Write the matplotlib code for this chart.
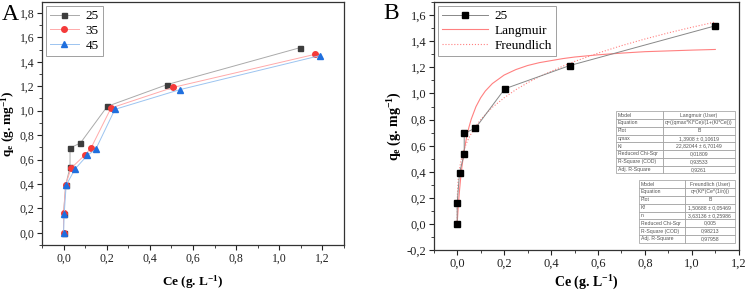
import matplotlib
matplotlib.use("Agg")
import matplotlib.pyplot as plt
from matplotlib.ticker import MultipleLocator, FuncFormatter

plt.rcParams['font.family'] = ['Liberation Serif', 'DejaVu Serif']
plt.rcParams['mathtext.default'] = 'regular'

# panel A: three temperatures
ce_25 = [0.0, 0.0, 0.01, 0.03, 0.03, 0.078, 0.203, 0.48, 1.098]
qe_25 = [0.0, 0.158, 0.393, 0.537, 0.695, 0.735, 1.036, 1.214, 1.517]
ce_35 = [0.0, 0.0, 0.01, 0.035, 0.1, 0.128, 0.22, 0.508, 1.166]
qe_35 = [0.0, 0.16, 0.395, 0.53, 0.639, 0.697, 1.022, 1.191, 1.462]
ce_45 = [0.0, 0.003, 0.012, 0.053, 0.11, 0.149, 0.238, 0.538, 1.188]
qe_45 = [0.0, 0.155, 0.39, 0.522, 0.634, 0.683, 1.011, 1.172, 1.451]

# panel B: fitted curves
fit_ce = [0.0, 0.0002, 0.0005, 0.001, 0.002, 0.0035, 0.005, 0.007, 0.01,
          0.015, 0.02, 0.03, 0.04, 0.05, 0.06, 0.08, 0.1, 0.12, 0.15, 0.2,
          0.25, 0.3, 0.35, 0.45, 0.5, 0.6, 0.7, 0.8, 0.9, 1.0, 1.1]
lang_q = [0.0, 0.006, 0.016, 0.031, 0.061, 0.103, 0.142, 0.192, 0.258,
          0.355, 0.436, 0.565, 0.664, 0.741, 0.804, 0.899, 0.967, 1.019,
          1.076, 1.141, 1.183, 1.214, 1.236, 1.267, 1.279, 1.296, 1.309,
          1.320, 1.326, 1.332, 1.337]
freu_q = [0.0, 0.144, 0.186, 0.225, 0.272, 0.318, 0.350, 0.384, 0.424,
          0.474, 0.513, 0.574, 0.621, 0.660, 0.694, 0.752, 0.799, 0.840,
          0.894, 0.967, 1.029, 1.082, 1.129, 1.209, 1.245, 1.309, 1.366,
          1.417, 1.464, 1.507, 1.547]

lang_table = [["Model", "Langmuir (User)"],
              ["Equation", "q=((qmax*Kl*Ce)/(1+(Kl*Ce)))"],
              ["Plot", "B"],
              ["qmax", "1,3908 ± 0,10619"],
              ["Kl", "22,82044 ± 6,70149"],
              ["Reduced Chi-Sqr", "0,01809"],
              ["R-Square (COD)", "0,93533"],
              ["Adj. R-Square", "0,9261"]]
freu_table = [["Model", "Freundlich (User)"],
              ["Equation", "q=(Kf*(Ce^(1/n)))"],
              ["Plot", "B"],
              ["Kf", "1,50688 ± 0,05469"],
              ["n", "3,63136 ± 0,25986"],
              ["Reduced Chi-Sqr", "0,005"],
              ["R-Square (COD)", "0,98213"],
              ["Adj. R-Square", "0,97958"]]

comma = FuncFormatter(lambda v, p: ("%.1f" % v).replace(".", ","))


def style_axes(ax, tick_size, label_size, xpad):
    for s in ax.spines.values():
        s.set_color('#333333')
        s.set_linewidth(0.9)
    ax.xaxis.set_major_locator(MultipleLocator(0.2))
    ax.xaxis.set_minor_locator(MultipleLocator(0.1))
    ax.yaxis.set_major_locator(MultipleLocator(0.2))
    ax.yaxis.set_minor_locator(MultipleLocator(0.1))
    ax.xaxis.set_major_formatter(comma)
    ax.yaxis.set_major_formatter(comma)
    ax.tick_params(which='major', direction='out', length=3.5, width=0.8,
                   labelsize=tick_size, colors='#222222', pad=2)
    ax.tick_params(which='minor', direction='out', length=2, width=0.6,
                   colors='#222222')
    ax.set_xlabel('Ce (g. L$^{-1}$)', fontsize=label_size, fontweight='bold',
                  labelpad=xpad)
    ax.set_ylabel('q$_e$ (g. mg$^{-1}$)', fontsize=label_size, fontweight='bold',
                  labelpad=2)


fig = plt.figure(figsize=(7.47, 2.91), dpi=100)
axA = fig.add_axes([0.0562, 0.158, 0.4043, 0.835])
axB = fig.add_axes([0.5806, 0.14, 0.4084, 0.853])

axA.plot(ce_25, qe_25, '-s', color='#aaaaaa', lw=0.7, ms=3.6,
         mfc='#3d3d3d', mec='#3d3d3d', label='25')
axA.plot(ce_35, qe_35, '-o', color='#ffaaaa', lw=0.7, ms=4,
         mfc='#f43a3a', mec='#f43a3a', label='35')
axA.plot(ce_45, qe_45, '-^', color='#9cc4f0', lw=0.7, ms=4.2,
         mfc='#1f6fde', mec='#1f6fde', label='45')
axA.set_xlim(-0.1, 1.3)
axA.set_ylim(-0.1, 1.89)
style_axes(axA, 8.5, 9.5, 6)
leg = axA.legend(loc='upper left', fontsize=9.5, frameon=True, fancybox=False,
                 handlelength=2.2, handletextpad=0.5, borderpad=0.3,
                 labelspacing=0.2, borderaxespad=0.3)
leg.get_frame().set_edgecolor('#888888')
leg.get_frame().set_linewidth(0.7)
fig.text(0.003, 0.985, 'A', fontsize=17, va='top', ha='left')

axB.plot(fit_ce, lang_q, '-', color='#ff8080', lw=0.8, label='Langmuir', zorder=2)
axB.plot(fit_ce, freu_q, ':', color='#ff8080', lw=0.8, label='Freundlich', zorder=2)
axB.plot(ce_25, qe_25, '-s', color='#888888', lw=0.7, ms=3.8,
         mfc='black', mec='black', label='25', zorder=3)
axB.set_xlim(-0.1, 1.2)
axB.set_ylim(-0.2, 1.7)
style_axes(axB, 9, 10, 3)
h, l = axB.get_legend_handles_labels()
leg = axB.legend([h[2], h[0], h[1]], [l[2], l[0], l[1]], loc='upper left',
                 fontsize=9.5, frameon=True, fancybox=False, handlelength=3.5,
                 handletextpad=0.5, borderpad=0.3, labelspacing=0.2,
                 borderaxespad=0.3)
leg.get_frame().set_edgecolor('#888888')
leg.get_frame().set_linewidth(0.7)
fig.text(0.513, 0.99, 'B', fontsize=17, va='top', ha='left')


def draw_table(ax, rows, bbox, col0):
    t = ax.table(cellText=rows, bbox=bbox, colWidths=[col0, 1 - col0],
                 cellLoc='center', zorder=5)
    t.auto_set_font_size(False)
    for (r, c), cell in t.get_celld().items():
        cell.set_edgecolor('#999999')
        cell.set_linewidth(0.5)
        cell.set_facecolor('white')
        cell.get_text().set_fontsize(3.7)
        cell.get_text().set_family(['Liberation Sans', 'DejaVu Sans'])
        cell.get_text().set_color('#555555')
        if c == 0:
            cell.get_text().set_ha('left')
            cell.PAD = 0.05
    return t


draw_table(axB, lang_table, [0.596, 0.31, 0.392, 0.25], 0.395)
draw_table(axB, freu_table, [0.672, 0.03, 0.316, 0.252], 0.476)

fig.savefig('out.png', dpi=100)
